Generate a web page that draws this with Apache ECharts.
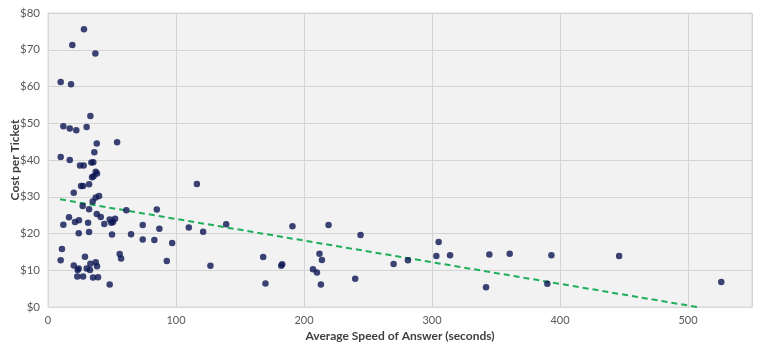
<!DOCTYPE html>
<html>
<head>
<meta charset="utf-8">
<script src="https://cdn.jsdelivr.net/npm/echarts@6/dist/echarts.min.js"></script>
<style>html,body{margin:0;padding:0;background:#fff;}#c{width:760px;height:346px;}</style>
</head>
<body>
<div id="c"></div>
<script>
var speed = [28.1,19.0,37.0,9.9,18.0,33.1,12.0,17.0,22.1,30.2,38.1,54.0,36.2,9.9,17.0,25.0,27.9,33.9,35.4,37.3,
  38.3,35.6,34.4,32.1,25.8,27.4,20.1,39.9,37.3,34.9,27.1,32.1,61.2,85.0,116.3,16.4,38.1,41.2,12.0,24.2,
  21.1,31.3,44.0,48.2,52.4,50.8,49.5,74.0,87.0,110.0,121.2,139.2,24.0,32.1,50.0,64.9,74.0,83.1,97.0,10.9,
  56.0,57.1,9.9,28.9,20.1,37.3,38.3,33.1,92.8,126.9,24.0,23.2,30.2,32.8,22.9,27.4,35.2,39.1,48.2,191.0,
  219.2,244.2,305.2,168.1,183.0,182.2,169.9,212.1,214.0,207.0,210.1,213.2,240.0,270.0,281.2,303.4,314.1,344.8,342.2,360.7,
  393.3,390.1,446.2,526.0];
var cost = [75.6,71.3,69.0,61.2,60.6,52.0,49.2,48.6,48.1,49.0,44.5,44.8,42.1,40.8,40.0,38.5,38.5,39.3,39.4,36.8,
  36.3,35.6,35.3,33.4,32.9,32.9,31.1,30.2,29.8,28.7,27.5,26.6,26.3,26.5,33.5,24.4,25.3,24.5,22.4,23.6,
  23.1,22.9,22.6,23.8,24.0,23.1,22.9,22.3,21.3,21.6,20.5,22.5,20.1,20.4,19.7,19.8,18.4,18.2,17.4,15.8,
  14.4,13.2,12.7,13.7,11.3,12.2,11.1,11.8,12.5,11.2,10.5,10.1,10.5,10.1,8.3,8.3,8.0,8.1,6.1,22.0,
  22.3,19.6,17.7,13.6,11.6,11.2,6.4,14.5,12.8,10.3,9.4,6.1,7.7,11.7,12.7,13.9,14.1,14.3,5.4,14.5,
  14.1,6.3,13.9,6.8];
var trendX = [9.4, 507];
var trendY = [29.3, 0];
var xTicks = [0, 100, 200, 300, 400, 500];
var yTicks = ['$0','$10','$20','$30','$40','$50','$60','$70','$80'];

var points = speed.map(function (s, i) { return [s, cost[i]]; });
var trend = trendX.map(function (s, i) { return [s, trendY[i]]; });

var font = 'Lato, "Open Sans", sans-serif';
var chart = echarts.init(document.getElementById('c'), null, {renderer: 'canvas'});
chart.setOption({
  animation: false,
  grid: {left: 48, right: 8, top: 13, bottom: 39, containLabel: false, outerBoundsMode: 'none',
    show: true, backgroundColor: '#f2f2f2', borderColor: '#d9d9d9', borderWidth: 1},
  xAxis: {
    type: 'value', min: 0, max: 550, interval: 100,
    name: 'Average Speed of Answer (seconds)', nameLocation: 'middle', nameGap: 23, nameMoveOverlap: false,
    nameTextStyle: {fontFamily: font, fontSize: 12, fontWeight: 'bold', color: '#404040'},
    axisLine: {show: true, lineStyle: {color: '#d9d9d9'}},
    axisTick: {show: false},
    axisLabel: {fontFamily: font, fontSize: 11, color: '#595959', margin: 8, showMaxLabel: false,
      formatter: function (v) { return xTicks.indexOf(v) >= 0 ? String(v) : ''; }},
    splitLine: {show: true, lineStyle: {color: '#d4d4d4', width: 1}}
  },
  yAxis: {
    type: 'value', min: 0, max: 80, interval: 10,
    name: 'Cost per Ticket', nameLocation: 'middle', nameGap: 27, nameRotate: 90, nameMoveOverlap: false,
    nameTextStyle: {fontFamily: font, fontSize: 12, fontWeight: 'bold', color: '#404040'},
    axisLine: {show: true, lineStyle: {color: '#d9d9d9'}},
    axisTick: {show: false},
    axisLabel: {fontFamily: font, fontSize: 11.5, color: '#595959', margin: 8,
      formatter: function (v) { return yTicks[Math.round(v / 10)]; }},
    splitLine: {show: true, lineStyle: {color: '#d4d4d4', width: 1}}
  },
  series: [
    {type: 'line', data: trend, symbol: 'none', z: 1,
      lineStyle: {color: '#1fae5b', width: 2, type: [6, 4]}},
    {type: 'scatter', data: points, symbol: 'circle', symbolSize: 6.5, z: 3,
      itemStyle: {color: '#0b1552', borderWidth: 0}}
  ]
});
</script>
</body>
</html>
